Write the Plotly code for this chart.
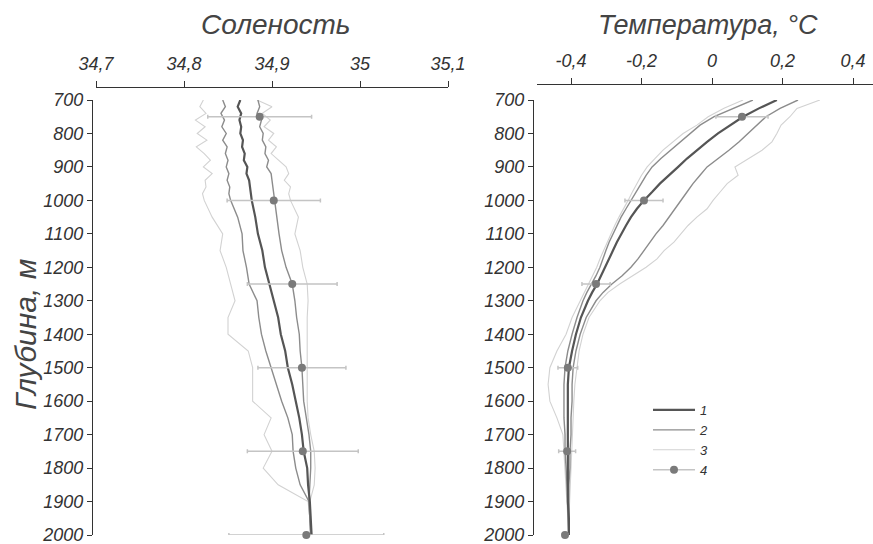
import plotly.graph_objects as go

# ---- depth grids (m) ----
DEPTH_S = [700, 720, 740, 760, 780, 800, 820, 840, 860, 880, 900, 920, 940, 960, 980, 1000,
           1050, 1100, 1150, 1200, 1250, 1300, 1350, 1400, 1450, 1500, 1550, 1600, 1650, 1700,
           1750, 1800, 1850, 1900, 1950, 2000]
DEPTH_T = [700, 725, 750, 775, 800, 825, 850, 875, 900, 925, 950, 975, 1000, 1025, 1050, 1075,
           1100, 1125, 1150, 1175, 1200, 1225, 1250, 1275, 1300,
           1350, 1400, 1450, 1500, 1550, 1600, 1650, 1700, 1750, 1800, 1850, 1900, 1950, 2000]
DEPTH_PTS = [750, 1000, 1250, 1500, 1750, 2000]

# ---- salinity profiles ----
sal_mean = [34.864, 34.861, 34.865, 34.863, 34.865, 34.864, 34.867, 34.866, 34.869, 34.868,
            34.872, 34.871, 34.874, 34.875, 34.876, 34.877, 34.881, 34.884, 34.889, 34.892,
            34.897, 34.902, 34.907, 34.910, 34.915, 34.918, 34.923, 34.927, 34.931, 34.934,
            34.936, 34.940, 34.941, 34.943, 34.944, 34.945]
sal_sd_lo = [34.844, 34.847, 34.842, 34.846, 34.843, 34.848, 34.844, 34.849, 34.847, 34.850,
             34.848, 34.851, 34.849, 34.852, 34.851, 34.853, 34.861, 34.866, 34.867, 34.871,
             34.874, 34.883, 34.885, 34.888, 34.893, 34.899, 34.905, 34.911, 34.918, 34.923,
             34.924, 34.927, 34.932, 34.942, 34.943, 34.944]
sal_sd_hi = [34.884, 34.886, 34.883, 34.888, 34.886, 34.890, 34.889, 34.893, 34.892, 34.896,
             34.894, 34.899, 34.900, 34.901, 34.902, 34.903, 34.905, 34.908, 34.911, 34.916,
             34.923, 34.926, 34.928, 34.931, 34.932, 34.934, 34.935, 34.936, 34.939, 34.942,
             34.944, 34.944, 34.943, 34.942, 34.943, 34.944]
sal_min = [34.822, 34.818, 34.825, 34.813, 34.824, 34.815, 34.826, 34.814, 34.823, 34.830,
           34.822, 34.832, 34.824, 34.825, 34.821, 34.823, 34.832, 34.844, 34.841, 34.848,
           34.853, 34.858, 34.850, 34.850, 34.873, 34.878, 34.878, 34.878, 34.899, 34.891,
           34.900, 34.890, 34.907, 34.941, 34.943, 34.944]
sal_max = [34.883, 34.900, 34.889, 34.898, 34.891, 34.902, 34.896, 34.905, 34.899, 34.907,
           34.916, 34.919, 34.914, 34.921, 34.919, 34.921, 34.930, 34.926, 34.932, 34.935,
           34.940, 34.941, 34.940, 34.940, 34.940, 34.940, 34.940, 34.940, 34.941, 34.944,
           34.948, 34.949, 34.948, 34.943, 34.944, 34.945]
sal_pts = [34.886, 34.902, 34.923, 34.934, 34.935, 34.939]
sal_err = [0.059, 0.053, 0.051, 0.050, 0.063, 0.088]

# ---- temperature profiles (°C) ----
temp_mean = [0.184, 0.133, 0.088, 0.051, 0.017, -0.014, -0.043, -0.071, -0.096, -0.122,
             -0.148, -0.170, -0.193, -0.213, -0.230, -0.244, -0.258, -0.270, -0.281, -0.292,
             -0.304, -0.315, -0.326, -0.340, -0.352,
             -0.372, -0.386, -0.397, -0.406, -0.409, -0.409, -0.409, -0.411, -0.411, -0.411,
             -0.409, -0.409, -0.406, -0.406]
temp_sd_lo = [0.116, 0.060, 0.006, -0.034, -0.062, -0.088, -0.115, -0.145, -0.170, -0.187,
              -0.201, -0.216, -0.230, -0.244, -0.258, -0.270, -0.281, -0.292, -0.301, -0.309,
              -0.318, -0.329, -0.343, -0.355, -0.366,
              -0.383, -0.397, -0.409, -0.417, -0.420, -0.420, -0.420, -0.417, -0.417, -0.414,
              -0.411, -0.409, -0.409, -0.406]
temp_sd_hi = [0.244, 0.193, 0.153, 0.128, 0.102, 0.077, 0.048, 0.017, -0.014, -0.034,
              -0.054, -0.071, -0.088, -0.105, -0.122, -0.139, -0.159, -0.176, -0.193, -0.210,
              -0.230, -0.255, -0.284, -0.309, -0.329,
              -0.357, -0.374, -0.386, -0.394, -0.397, -0.397, -0.400, -0.400, -0.403, -0.403,
              -0.406, -0.406, -0.406, -0.406]
temp_min = [0.088, 0.034, -0.011, -0.043, -0.082, -0.111, -0.139, -0.162, -0.184, -0.200,
            -0.214, -0.226, -0.238, -0.252, -0.264, -0.276, -0.287, -0.298, -0.309, -0.318,
            -0.327, -0.339, -0.350, -0.362, -0.373,
            -0.397, -0.414, -0.440, -0.460, -0.465, -0.460, -0.440, -0.423, -0.420, -0.417,
            -0.414, -0.411, -0.409, -0.409]
temp_max = [0.306, 0.241, 0.221, 0.196, 0.184, 0.170, 0.142, 0.105, 0.065, 0.074,
            0.043, 0.023, 0.003, -0.014, -0.043, -0.068, -0.088, -0.108, -0.136, -0.156,
            -0.187, -0.225, -0.262, -0.295, -0.318,
            -0.349, -0.366, -0.377, -0.383, -0.389, -0.392, -0.394, -0.397, -0.397, -0.400,
            -0.403, -0.403, -0.406, -0.406]
temp_pts = [0.085, -0.193, -0.329, -0.409, -0.411, -0.417]
temp_err = [0.074, 0.054, 0.040, 0.028, 0.024, 0.008]

# ---- axis ticks ----
SAL_TICKS = [34.7, 34.8, 34.9, 35.0, 35.1]
SAL_TICKTEXT = ["34,7", "34,8", "34,9", "35", "35,1"]
TEMP_TICKS = [-0.4, -0.2, 0.0, 0.2, 0.4]
TEMP_TICKTEXT = ["-0,4", "-0,2", "0", "0,2", "0,4"]
DEPTH_TICKS = list(range(700, 2001, 100))
LEGEND_NAMES = ["1", "2", "3", "4"]

FONT = "Liberation Sans, Arial, Helvetica, sans-serif"
C_MEAN, C_SD, C_EXT = "#555555", "#8c8c8c", "#d2d2d2"
C_BAR, C_DOT = "#c4c4c4", "#7a7a7a"
W, H = 873, 544


def px_x(v):
    return v / W


def px_y(v):
    return 1 - v / H


fig = go.Figure()


def add_panel(xs_list, depth, pts, err, pts_depth, xa, ya, legend):
    mean, lo, hi, mn, mx = xs_list
    for i, series in enumerate([mn, mx]):
        fig.add_trace(go.Scatter(x=series, y=depth, mode="lines", xaxis=xa, yaxis=ya,
                                 line=dict(color=C_EXT, width=1.1),
                                 name=LEGEND_NAMES[2], showlegend=legend and i == 0,
                                 legendrank=3))
    for i, series in enumerate([lo, hi]):
        fig.add_trace(go.Scatter(x=series, y=depth, mode="lines", xaxis=xa, yaxis=ya,
                                 line=dict(color=C_SD, width=1.4),
                                 name=LEGEND_NAMES[1], showlegend=legend and i == 0,
                                 legendrank=2))
    fig.add_trace(go.Scatter(x=mean, y=depth, mode="lines", xaxis=xa, yaxis=ya,
                             line=dict(color=C_MEAN, width=2.2),
                             name=LEGEND_NAMES[0], showlegend=legend, legendrank=1))
    fig.add_trace(go.Scatter(x=pts, y=pts_depth, mode="markers", xaxis=xa, yaxis=ya,
                             marker=dict(color=C_DOT, size=8),
                             error_x=dict(type="data", array=err, color=C_BAR,
                                          thickness=1.5, width=2),
                             showlegend=False, cliponaxis=False))


add_panel([sal_mean, sal_sd_lo, sal_sd_hi, sal_min, sal_max], DEPTH_S,
          sal_pts, sal_err, DEPTH_PTS, "x", "y", False)
add_panel([temp_mean, temp_sd_lo, temp_sd_hi, temp_min, temp_max], DEPTH_T,
          temp_pts, temp_err, DEPTH_PTS, "x2", "y2", True)

# legend entry for the mean ± error points
fig.add_trace(go.Scatter(x=[None], y=[None], mode="lines+markers", xaxis="x2", yaxis="y2",
                         line=dict(color=C_BAR, width=1.5),
                         marker=dict(color=C_DOT, size=8),
                         name=LEGEND_NAMES[3], legendrank=4))

axis_common = dict(showline=True, linecolor="#333333", linewidth=1.3, ticks="outside",
                   tickcolor="#333333", tickwidth=1.3, showgrid=False, zeroline=False,
                   ticklabeloverflow="allow", automargin=False,
                   tickfont=dict(size=18, color="#333333", family=FONT, style="italic"))

y_dom = [px_y(535), px_y(100)]

fig.update_layout(
    width=W, height=H,
    margin=dict(l=0, r=0, t=0, b=0, pad=0, autoexpand=False),
    paper_bgcolor="white", plot_bgcolor="white",
    font=dict(family=FONT, size=18, color="#333333", style="italic"),
    xaxis=dict(domain=[px_x(96), px_x(448)], range=[34.7, 35.1], side="top",
               anchor="free", position=px_y(87), tickvals=SAL_TICKS,
               ticktext=SAL_TICKTEXT, ticklen=6, ticklabelstandoff=4, **axis_common),
    yaxis=dict(domain=y_dom, range=[2000, 700], anchor="free", position=px_x(92),
               tickvals=DEPTH_TICKS, ticklen=5, **axis_common),
    xaxis2=dict(domain=[px_x(537), 1.0], range=[-0.4965, 0.4567], side="top",
                anchor="free", position=px_y(84), tickvals=TEMP_TICKS,
                ticktext=TEMP_TICKTEXT, ticklen=6, ticklabelstandoff=4, **axis_common),
    yaxis2=dict(domain=y_dom, range=[2000, 700], anchor="free", position=px_x(533),
                tickvals=DEPTH_TICKS, ticklen=5, **axis_common),
    legend=dict(x=px_x(648), y=px_y(395), xanchor="left", yanchor="top",
                bgcolor="rgba(0,0,0,0)", borderwidth=0, itemwidth=42,
                font=dict(size=13, color="#333333", family=FONT, style="italic")),
    showlegend=True,
    annotations=[
        dict(text="Соленость", x=px_x(276), y=px_y(25), xref="paper", yref="paper",
             showarrow=False, xanchor="center", yanchor="middle",
             font=dict(size=28, color="#444444", family=FONT, style="italic")),
        dict(text="Температура, °C", x=px_x(708), y=px_y(25), xref="paper", yref="paper",
             showarrow=False, xanchor="center", yanchor="middle",
             font=dict(size=27, color="#444444", family=FONT, style="italic")),
        dict(text="Глубина, м", x=px_x(25), y=px_y(335), xref="paper", yref="paper",
             showarrow=False, xanchor="center", yanchor="middle", textangle=-90,
             font=dict(size=30, color="#444444", family=FONT, style="italic")),
    ],
)

fig.write_html("out.html")
